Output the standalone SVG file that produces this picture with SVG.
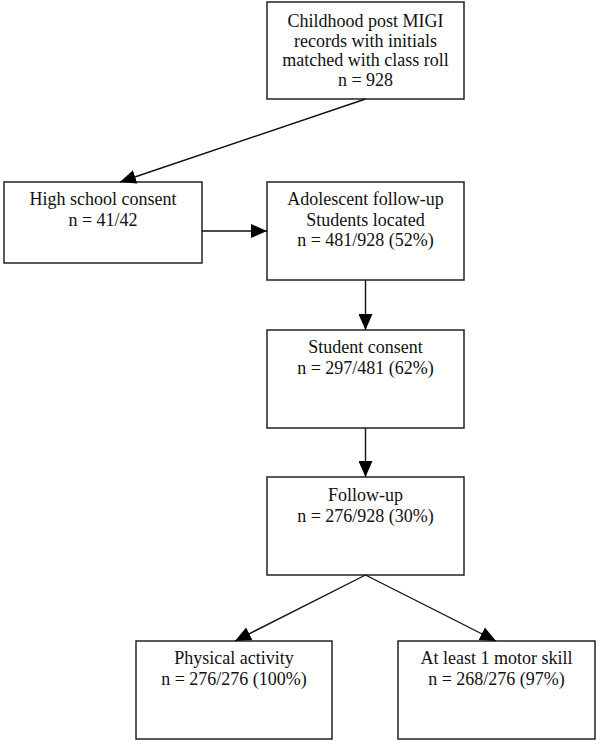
<svg xmlns="http://www.w3.org/2000/svg" width="600" height="744" viewBox="0 0 600 744">
<style>
rect.box{fill:#fff;stroke:#222;stroke-width:1.5}
text{font-family:"Liberation Serif","Times New Roman",serif;font-size:18px;fill:#111;text-anchor:middle}
.conn line{stroke:#111;stroke-width:1.4}
</style>
<defs>
<marker id="ah" markerWidth="16" markerHeight="14" refX="16" refY="7" orient="auto" markerUnits="userSpaceOnUse">
<path d="M0,0 L16,7 L0,14 Z" fill="#000"/>
</marker>
</defs>
<rect width="600" height="744" fill="#fff"/>
<g id="n-childhood">
<rect class="box" x="267" y="2" width="197" height="97"/>
<text x="365.5" y="27">Childhood post MIGI</text>
<text x="365.5" y="47">records with initials</text>
<text x="365.5" y="66">matched with class roll</text>
<text x="365.5" y="86">n = 928</text>
</g>
<g id="n-highschool">
<rect class="box" x="4" y="182" width="198" height="81"/>
<text x="103" y="205">High school consent</text>
<text x="103" y="226">n = 41/42</text>
</g>
<g id="n-adolescent">
<rect class="box" x="267" y="182" width="197" height="98"/>
<text x="365.5" y="205">Adolescent follow-up</text>
<text x="365.5" y="226">Students located</text>
<text x="365.5" y="246">n = 481/928 (52%)</text>
</g>
<g id="n-studentconsent">
<rect class="box" x="267" y="330" width="197" height="98"/>
<text x="365.5" y="353">Student consent</text>
<text x="365.5" y="374">n = 297/481 (62%)</text>
</g>
<g id="n-followup">
<rect class="box" x="267" y="477" width="197" height="98"/>
<text x="365.5" y="501">Follow-up</text>
<text x="365.5" y="522">n = 276/928 (30%)</text>
</g>
<g id="n-physical">
<rect class="box" x="136" y="641" width="196" height="98"/>
<text x="234" y="664">Physical activity</text>
<text x="234" y="685">n = 276/276 (100%)</text>
</g>
<g id="n-motor">
<rect class="box" x="398" y="641" width="197" height="98"/>
<text x="496.5" y="664">At least 1 motor skill</text>
<text x="496.5" y="685">n = 268/276 (97%)</text>
</g>
<g id="connectors" class="conn">
<line x1="365.5" y1="99" x2="120" y2="182" marker-end="url(#ah)"/>
<line x1="202" y1="231" x2="267" y2="231" marker-end="url(#ah)"/>
<line x1="365.5" y1="280" x2="365.5" y2="330" marker-end="url(#ah)"/>
<line x1="365.5" y1="428" x2="365.5" y2="477" marker-end="url(#ah)"/>
<line x1="365.5" y1="575" x2="235" y2="641" marker-end="url(#ah)"/>
<line x1="365.5" y1="575" x2="496" y2="641" marker-end="url(#ah)"/>
</g>
</svg>
